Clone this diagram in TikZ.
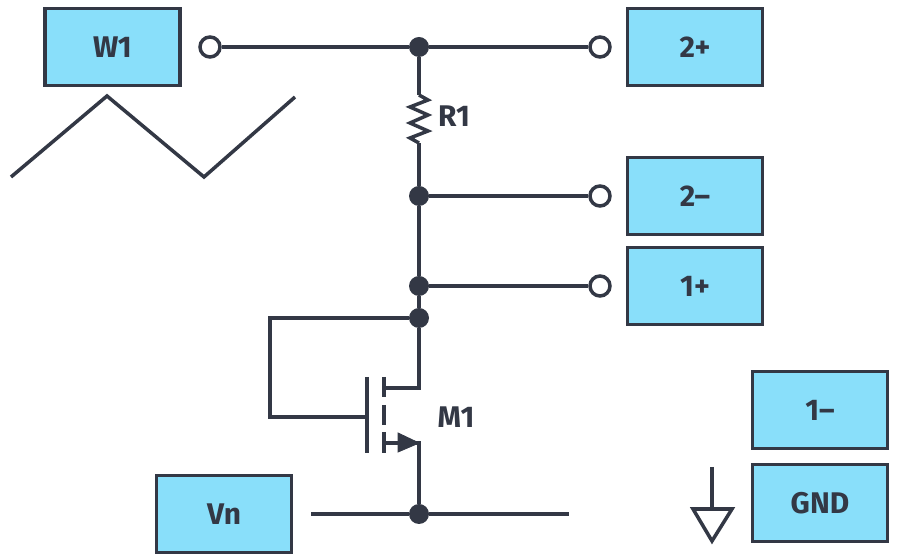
\documentclass[tikz,border=0pt]{standalone}
\usepackage{fontspec}
\setmainfont{Fira Sans}
\usetikzlibrary{calc}
\definecolor{wirecol}{HTML}{333845}
\definecolor{boxcol}{HTML}{89DFFA}
\tikzset{
  pinbox/.style={draw=wirecol,line width=2.2pt,fill=boxcol,minimum width=2.7cm,minimum height=1.54cm,inner sep=0pt,text=wirecol,font=\fontsize{17}{20}\selectfont\bfseries},
  wire/.style={draw=wirecol,line width=2pt},
  dotnode/.style={circle,fill=wirecol,minimum size=0.4cm,inner sep=0pt},
  opennode/.style={circle,draw=wirecol,line width=2pt,fill=white,minimum size=0.4cm,inner sep=0pt},
  lab/.style={text=wirecol,font=\fontsize{17}{20}\selectfont\bfseries}
}
\begin{document}
\begin{tikzpicture}
\useasboundingbox (0,0) rectangle (18,11.2);
\node[pinbox] (w1) at (2.25,10.26) {W1};
\node[pinbox] (ptwo) at (13.9,10.26) {2+};
\node[pinbox] (mtwo) at (13.9,7.28) {2\textendash};
\node[pinbox] (pone) at (13.9,5.48) {1+};
\node[pinbox] (mone) at (16.4,3.0) {1\textendash};
\node[pinbox] (gnd) at (16.4,1.14) {GND};
\node[pinbox] (vn) at (4.48,0.92) {Vn};
\coordinate (rtop) at (8.38,9.3);
\coordinate (rbot) at (8.38,8.34);
\coordinate (drain) at (8.38,3.44);
\coordinate (source) at (8.38,2.34);
\coordinate (gatecorner) at (5.4,4.84);
\coordinate (gatelow) at (5.4,2.86);
\coordinate (gatein) at (7.34,2.86);
\coordinate (drainin) at (7.68,3.44);
\coordinate (sourcein) at (7.68,2.34);
\coordinate (vnl) at (6.22,0.92);
\coordinate (vnr) at (11.38,0.92);
\coordinate (gndtop) at (14.24,1.86);
\coordinate (gndbot) at (14.24,1.02);
\node[dotnode] (n1) at (8.38,10.26) {};
\node[dotnode] (n2) at (8.38,7.28) {};
\node[dotnode] (n3) at (8.38,5.48) {};
\node[dotnode] (n4) at (8.38,4.84) {};
\node[dotnode] (n5) at (8.38,0.92) {};
\node[opennode] (tw) at (4.2,10.26) {};
\node[opennode] (t2p) at (12,10.26) {};
\node[opennode] (t2m) at (12,7.28) {};
\node[opennode] (t1p) at (12,5.48) {};
\node[lab] (r1) at (9.08,8.88) {R1};
\node[lab] (m1) at (9.12,2.86) {M1};
\draw[wire] (tw) -- (n1) -- (t2p);
\draw[wire] (n2) -- (t2m);
\draw[wire] (n3) -- (t1p);
\draw[wire] (n1) -- (rtop);
\draw[wire,line join=miter] (rtop) -- ++(0.18,-0.1) -- ++(-0.36,-0.14) -- ++(0.36,-0.16) -- ++(-0.36,-0.16) -- ++(0.36,-0.16) -- ++(-0.36,-0.14) -- (rbot); % R1
\draw[wire] (rbot) -- (n2) -- (n3) -- (n4) -- (drain) -- (drainin);
\draw[wire] (n4) -- (gatecorner) -- (gatelow) -- (gatein);
\draw[wire] (7.34,3.66) -- (7.34,2.14); % gate
\draw[wire] (7.68,3.66) -- (7.68,3.26);
\draw[wire] (7.68,3.1) -- (7.68,2.7);
\draw[wire] (7.68,2.56) -- (7.68,2.14);
\draw[wire] (sourcein) -- (source) -- (n5);
\filldraw[wirecol,line width=0.5pt] (source) -- (7.96,2.54) -- (7.96,2.16) -- cycle;
\draw[wire] (vnl) -- (n5) -- (vnr);
\draw[wire] (gndtop) -- (gndbot);
\draw[wire,line join=miter] (13.86,1.02) -- (14.64,1.02) -- (14.24,0.38) -- cycle;
\draw[wire] (0.22,7.66) -- (2.14,9.28) -- (4.08,7.66) -- (5.9,9.26);
\end{tikzpicture}
\end{document}
